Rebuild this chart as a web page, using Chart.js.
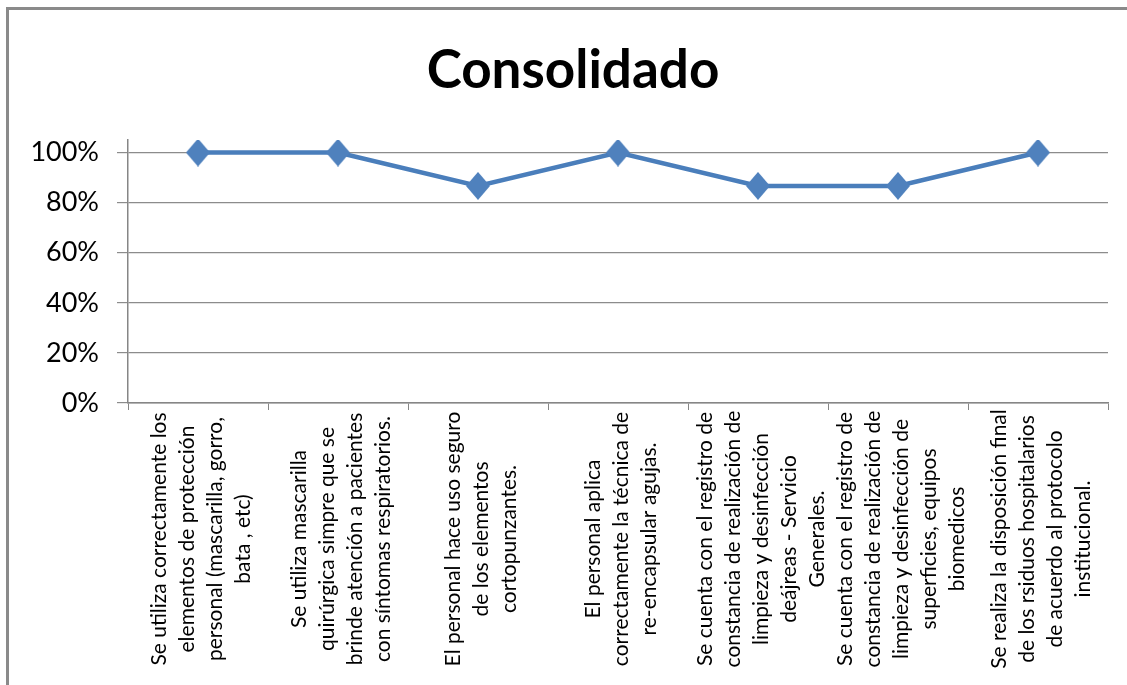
<!DOCTYPE html>
<html>
<head>
<meta charset="utf-8">
<script src="https://cdn.jsdelivr.net/npm/chart.js@4/dist/chart.umd.min.js"></script>
<style>
  html, body { margin: 0; padding: 0; background: #fff; }
  #wrap { position: relative; width: 1127px; height: 685px; }
  #frame { position: absolute; left: 6px; top: 7px; right: 0; bottom: 0;
           border-left: 3px solid #8a8a8a; border-top: 3px solid #8a8a8a; pointer-events: none; }
  canvas { display: block; }
</style>
</head>
<body>
<div id="wrap">
  <canvas id="c" width="1127" height="685"></canvas>
  <div id="frame"></div>
</div>
<script>
const chartTitle = "Consolidado";
const categories = [
  ["Se utiliza correctamente los", "elementos de protección", "personal (mascarilla, gorro,", "bata , etc)"],
  ["Se utiliza mascarilla", "quirúrgica simpre que se", "brinde atención a pacientes", "con síntomas respiratorios."],
  ["El personal hace uso seguro", "de los elementos", "cortopunzantes."],
  ["El personal aplica", "correctamente la técnica de", "re-encapsular agujas."],
  ["Se cuenta con el registro de", "constancia de realización de", "limpieza y desinfección", "deájreas - Servicio", "Generales."],
  ["Se cuenta con el registro de", "constancia de realización de", "limpieza y desinfección de", "superficies, equipos", "biomedicos"],
  ["Se realiza la disposición final", "de los rsiduos hospitalarios", "de acuerdo al protocolo", "institucional."]
];
const consolidado = [100, 100, 86.67, 100, 86.67, 86.67, 100];
const yTicks = [0, 20, 40, 60, 80, 100];

// diamond marker image (slightly taller than wide)
function diamond(w, h, color) {
  const c = document.createElement('canvas');
  c.width = w; c.height = h;
  const g = c.getContext('2d');
  g.fillStyle = color;
  g.beginPath();
  g.moveTo(w / 2, 0); g.lineTo(w, h / 2); g.lineTo(w / 2, h); g.lineTo(0, h / 2);
  g.closePath(); g.fill();
  return c;
}
const marker = diamond(24, 28, '#4F81BD');

const textPlugin = {
  id: 'textPlugin',
  afterDraw(chart) {
    const xs = chart.scales.x;
    const ctx = chart.ctx;
    ctx.save();
    // title
    ctx.font = 'bold 53px Lato';
    ctx.fillStyle = '#000';
    ctx.textAlign = 'center';
    ctx.textBaseline = 'alphabetic';
    ctx.fillText(chartTitle, 573, 88);
    // rotated category labels
    const lineH = 28;
    const centerY = 539;
    ctx.font = '21px Lato';
    ctx.textBaseline = 'middle';
    categories.forEach((lines, i) => {
      const x = xs.getPixelForValue(i) + 3;
      ctx.save();
      ctx.translate(x, centerY);
      ctx.rotate(-Math.PI / 2);
      const n = lines.length;
      lines.forEach((t, k) => {
        ctx.fillText(t, 0, (k - (n - 1) / 2) * lineH);
      });
      ctx.restore();
    });
    ctx.restore();
  }
};

new Chart(document.getElementById('c'), {
  type: 'line',
  data: {
    labels: categories,
    datasets: [{
      label: 'Consolidado',
      data: consolidado,
      borderColor: '#4A7EBB',
      borderWidth: 4.5,
      backgroundColor: '#4F81BD',
      pointStyle: marker,
      pointRadius: 12,
      tension: 0,
      fill: false
    }]
  },
  options: {
    responsive: false,
    animation: false,
    layout: { padding: { left: 0, right: 19, top: 140, bottom: 0 } },
    plugins: {
      legend: { display: false },
      tooltip: { enabled: false },
      title: { display: false }
    },
    scales: {
      x: {
        type: 'category',
        offset: true,
        ticks: { display: false },
        grid: { drawOnChartArea: false, drawTicks: true, tickLength: 7, color: '#868686', offset: true },
        border: { color: '#868686', width: 1.5 },
        afterFit(s) { s.height = 282; }
      },
      y: {
        min: 0,
        max: 105,
        afterBuildTicks(s) { s.ticks = yTicks.map(v => ({ value: v })); },
        ticks: {
          callback: v => v + '%',
          color: '#000',
          font: { family: 'Lato', size: 27 },
          padding: 18
        },
        grid: { color: '#8c8c8c', lineWidth: 1.2, drawTicks: true, tickLength: 11 },
        border: { color: '#868686', width: 1.5 },
        afterFit(s) { s.width = 128; }
      }
    }
  },
  plugins: [textPlugin]
});
</script>
</body>
</html>
